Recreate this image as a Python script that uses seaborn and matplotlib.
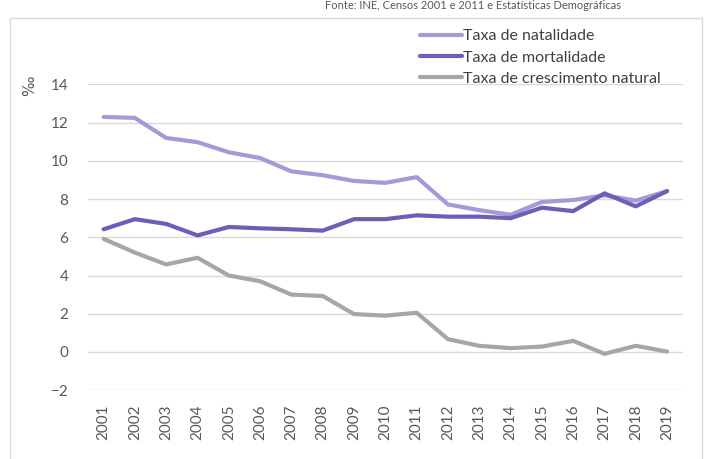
import pandas as pd
import matplotlib.pyplot as plt
import seaborn as sns
from matplotlib.patches import Rectangle

# Dados (‰)
anos = list(range(2001, 2020))
natalidade = [12.3, 12.25, 11.2, 10.98, 10.45, 10.15, 9.45, 9.25, 8.95, 8.85, 9.15,
              7.72, 7.42, 7.18, 7.85, 7.95, 8.2, 7.92, 8.42]
mortalidade = [6.42, 6.95, 6.7, 6.1, 6.54, 6.47, 6.42, 6.35, 6.95, 6.95, 7.15,
               7.08, 7.08, 7.0, 7.55, 7.37, 8.3, 7.62, 8.42]
crescimento = [5.92, 5.2, 4.58, 4.93, 4.0, 3.7, 3.0, 2.93, 1.98, 1.9, 2.05,
               0.67, 0.32, 0.2, 0.28, 0.58, -0.1, 0.32, 0.02]

series = ['Taxa de natalidade', 'Taxa de mortalidade', 'Taxa de crescimento natural']
cores = ['#a29bd8', '#6a60b8', '#a6a6a6']

df = pd.DataFrame({'ano': anos, series[0]: natalidade, series[1]: mortalidade, series[2]: crescimento})
df_long = df.melt(id_vars='ano', var_name='serie', value_name='taxa')

sns.set_style('white')
plt.rcParams['font.family'] = ['Lato', 'DejaVu Sans']

fig = plt.figure(figsize=(7.09, 4.59), dpi=100)
ax = fig.add_axes([0.124, 0.150, 0.839, 0.666])

sns.lineplot(data=df_long, x='ano', y='taxa', hue='serie', hue_order=series,
             palette=cores, linewidth=3, ax=ax, legend=True)
for ln in ax.get_lines():
    ln.set_solid_joinstyle('round')
    ln.set_solid_capstyle('round')

ax.set_xlim(2000.5, 2019.5)
ax.set_ylim(-2, 14)
ax.set_yticks(range(-2, 15, 2))
ax.set_xticks(anos)
ax.set_xticklabels([str(a) for a in anos], rotation=90)
ax.tick_params(axis='both', length=0, labelsize=11, labelcolor='#595959')
ax.tick_params(axis='y', pad=14)
ax.tick_params(axis='x', pad=10)
ax.yaxis.grid(True, color='#d9d9d9', linewidth=1)
ax.set_axisbelow(True)
for s in ax.spines.values():
    s.set_visible(False)
ax.set_xlabel('')
ax.set_ylabel('')

fig.text(30 / 709, 1 - 86 / 459, '‰', rotation=90, fontsize=11, color='#595959',
         ha='center', va='center', family=['DejaVu Sans'])

handles, labels = ax.get_legend_handles_labels()
leg = ax.legend(handles, labels, loc='upper left', bbox_to_anchor=(412 / 709, 1 - 21 / 459),
                bbox_transform=fig.transFigure, frameon=False, fontsize=11.5,
                handlelength=2.6, handletextpad=0.1, labelspacing=0.45, borderpad=0)
for t in leg.get_texts():
    t.set_color('#404040')

# moldura e fonte
fig.patches.append(Rectangle((10 / 709, -0.01), 692 / 709, 1 - 18 / 459 + 0.01,
                             transform=fig.transFigure, fill=False,
                             edgecolor='#d9d9d9', linewidth=1))
fig.text(325 / 709, 1.0, 'Fonte: INE, Censos 2001 e 2011 e Estatísticas Demográficas',
         fontsize=8, color='#595959', ha='left', va='top')

fig.savefig('out.png', dpi=100)
